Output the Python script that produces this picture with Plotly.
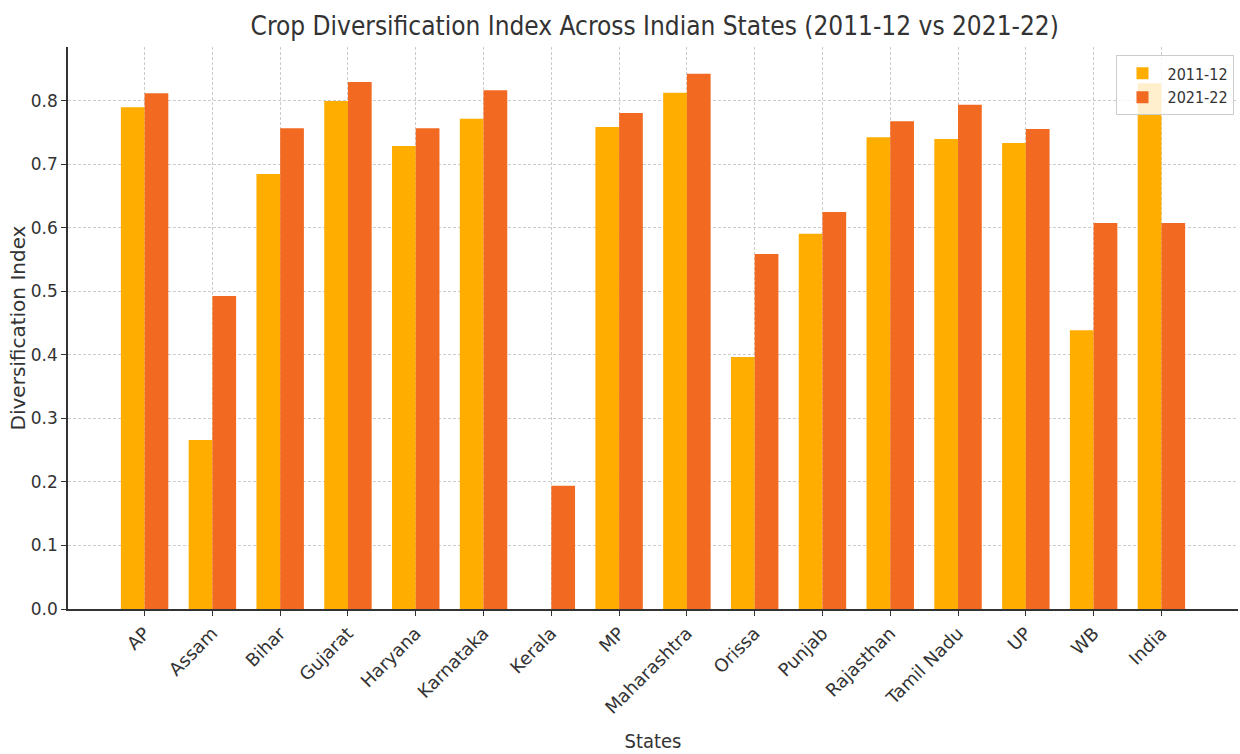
import plotly.graph_objects as go

states = ["AP", "Assam", "Bihar", "Gujarat", "Haryana", "Karnataka", "Kerala", "MP",
          "Maharashtra", "Orissa", "Punjab", "Rajasthan", "Tamil Nadu", "UP", "WB", "India"]
cdi_2011 = [0.790, 0.266, 0.685, 0.800, 0.729, 0.772, 0.0, 0.759,
            0.813, 0.397, 0.591, 0.743, 0.740, 0.734, 0.439, 0.828]
cdi_2021 = [0.812, 0.493, 0.757, 0.830, 0.757, 0.817, 0.194, 0.781,
            0.843, 0.559, 0.625, 0.768, 0.794, 0.756, 0.608, 0.608]
yticks = [0.0, 0.1, 0.2, 0.3, 0.4, 0.5, 0.6, 0.7, 0.8]

FONT = "DejaVu Sans"
COND = "DejaVu Sans Condensed"
fig = go.Figure()
fig.add_trace(go.Bar(x=states, y=cdi_2011, name="2011-12", marker_color="#FFAE00",
                     marker_line_width=0))
fig.add_trace(go.Bar(x=states, y=cdi_2021, name="2021-22", marker_color="#F26A22",
                     marker_line_width=0))

fig.update_layout(
    width=1240, height=754,
    barmode="group", bargap=0.3, bargroupgap=0,
    plot_bgcolor="white", paper_bgcolor="white",
    margin=dict(l=68, r=2, t=47, b=145),
    font=dict(family=FONT, color="#333333", size=16),
    title=dict(text="Crop Diversification Index Across Indian States (2011-12 vs 2021-22)",
               x=0.528, xanchor="center", y=0.966, yanchor="middle",
               font=dict(family=COND, size=26, color="#333333")),
    legend=dict(x=0.997, xanchor="right", y=0.985, yanchor="top",
                bordercolor="#cccccc", borderwidth=1, bgcolor="rgba(255,255,255,0.8)",
                font=dict(family=COND, size=16), itemwidth=40),
    xaxis=dict(range=[-1.13, 16.13], tickangle=-45, showline=True, linecolor="#333333",
               linewidth=1.5, ticks="outside", ticklen=5, tickcolor="#333333",
               showgrid=True, gridcolor="#cccccc", griddash="3px,2px", gridwidth=1,
               title=dict(text="States", font=dict(family=COND, size=20), standoff=17),
               tickfont=dict(size=18)),
    yaxis=dict(range=[0, 0.885], tickvals=yticks, ticktext=[f"{v:.1f}" for v in yticks],
               showline=True, linecolor="#333333", linewidth=1.5, ticks="outside", ticklen=5,
               tickcolor="#333333", showgrid=True, gridcolor="#cccccc", griddash="3px,2px",
               gridwidth=1, zeroline=False,
               title=dict(text="Diversification Index", font=dict(size=20), standoff=0),
               tickfont=dict(size=17)),
)
fig.write_html("out.html")
